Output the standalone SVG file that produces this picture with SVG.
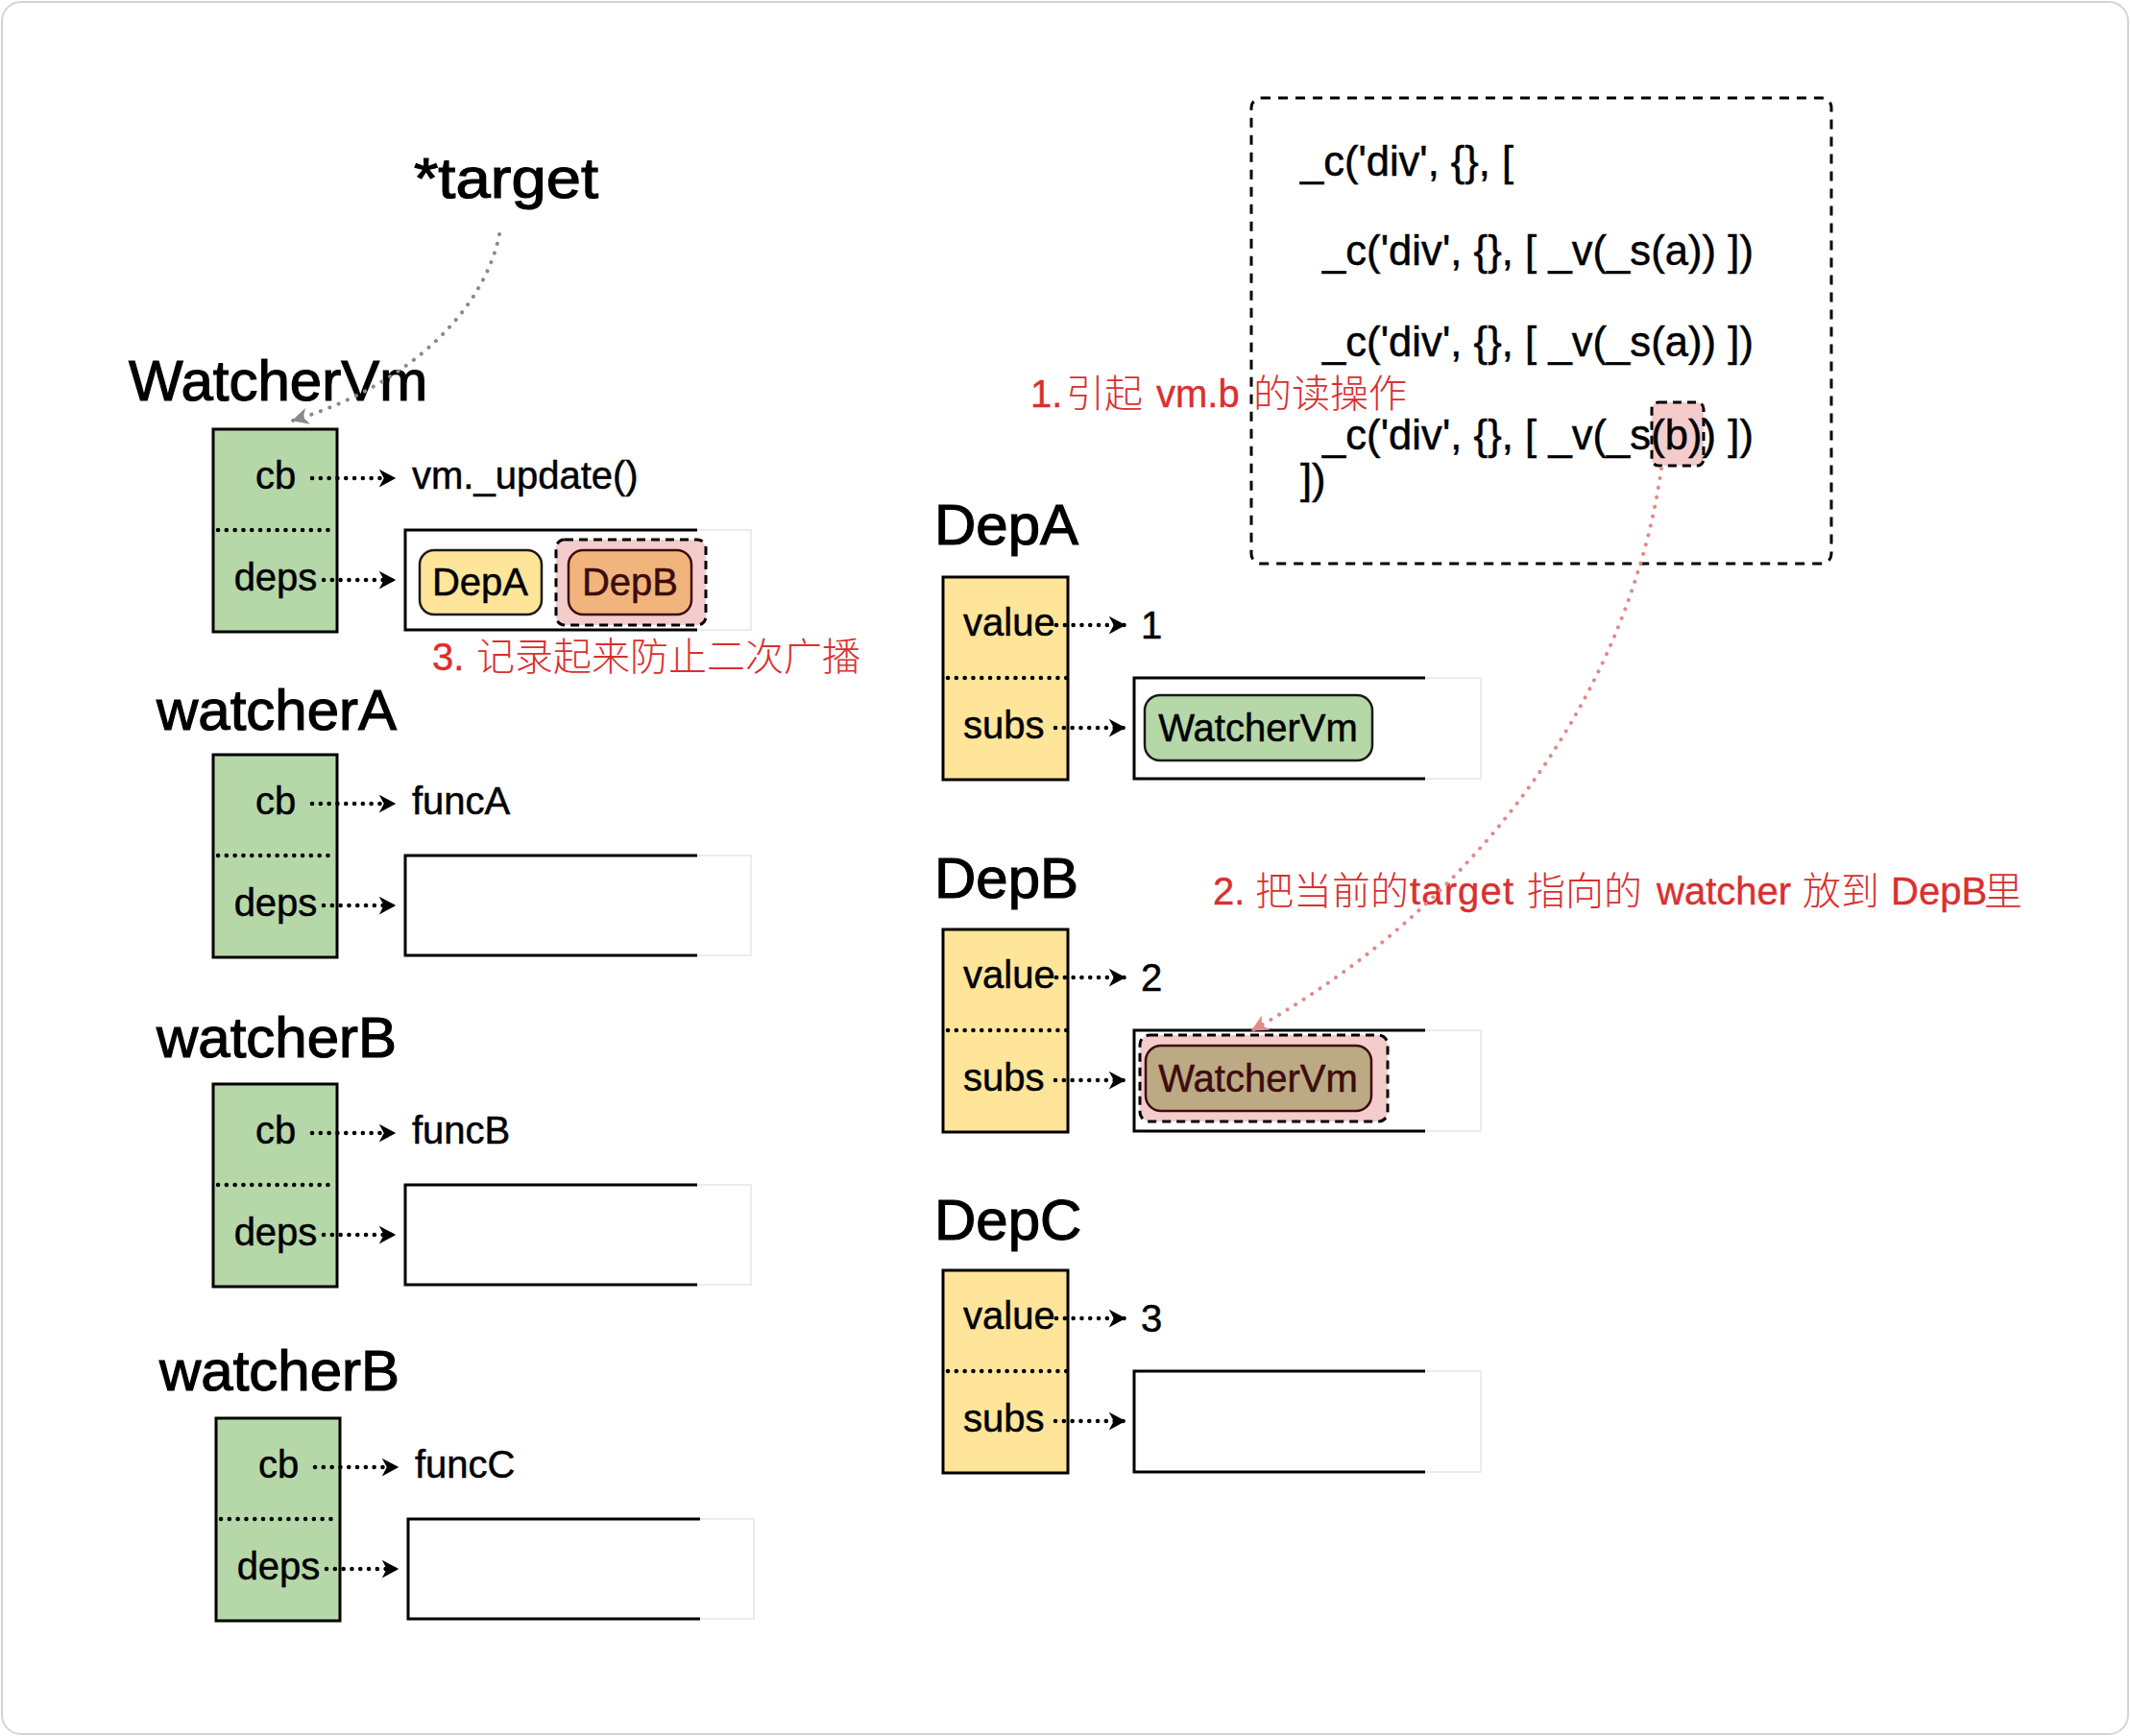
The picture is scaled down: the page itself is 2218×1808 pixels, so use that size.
<svg xmlns="http://www.w3.org/2000/svg" width="2218" height="1808" viewBox="0 0 2218 1808">
<defs>
<style>
.t{font-family:"Liberation Sans","DejaVu Sans",sans-serif;fill:#000}
.title{font-size:60px;stroke:#000;stroke-width:1.2}
.lbl{font-size:40px;stroke:#000;stroke-width:0.5}
.code{font-size:43.5px;stroke:#000;stroke-width:0.5}
.red{fill:#d9302f;font-size:40px;stroke:#d9302f;stroke-width:0.4}
.cjk{font-family:"Noto Sans CJK SC",sans-serif;font-weight:300;stroke-width:0}
.gbox{fill:#b6d7a8;stroke:#000;stroke-width:3}
.ybox{fill:#ffe599;stroke:#000;stroke-width:3}
.dots{stroke:#000;stroke-width:4.5;stroke-dasharray:0.1 8.7;stroke-linecap:round;fill:none}
.arr{stroke:#000;stroke-width:4.5;stroke-dasharray:0.1 8.7;stroke-linecap:round;fill:none;marker-end:url(#ah)}
.cont{fill:#fff;stroke:#000;stroke-width:3}
.faint{fill:none;stroke:#ececec;stroke-width:2}
.pillA{fill:#ffe599;stroke:#1a1a1a;stroke-width:2.5}
.pillB{fill:#f2b47d;stroke:#3d0c0c;stroke-width:2.5}
.pillG{fill:#b6d7a8;stroke:#1a1a1a;stroke-width:2.5}
.pillT{fill:#bcaa85;stroke:#3d0c0c;stroke-width:2.5}
.hl{fill:#f4cccc;stroke:#000;stroke-width:3;stroke-dasharray:9 6}
.dk{fill:#3d0c0c;stroke:#3d0c0c}
</style>
<marker id="ah" markerUnits="userSpaceOnUse" markerWidth="20" markerHeight="20" viewBox="0 0 16 16" refX="14" refY="8" orient="auto">
<path d="M1,0.5 L15,8 L1,15.5 L5,8 Z" fill="#000"/>
</marker>
<marker id="ahGray" markerUnits="userSpaceOnUse" markerWidth="20" markerHeight="20" viewBox="0 0 16 16" refX="14" refY="8" orient="auto">
<path d="M1,1 L15,8 L1,15 L5,8 Z" fill="#8a8a8a"/>
</marker>
<marker id="ahRed" markerUnits="userSpaceOnUse" markerWidth="20" markerHeight="20" viewBox="0 0 16 16" refX="14" refY="8" orient="auto">
<path d="M1,1 L15,8 L1,15 L5,8 Z" fill="#e08a8a"/>
</marker>
</defs>

<rect id="frame" x="2" y="2" width="2214" height="1804" rx="20" fill="#fff" stroke="#d4d4d4" stroke-width="2"/>

<text id="target" class="t title" x="431" y="206" textLength="192" lengthAdjust="spacingAndGlyphs">*target</text>

<g id="watcherVm">
<text class="t title" x="134" y="417">WatcherVm</text>
<rect class="gbox" x="222" y="447" width="129" height="211"/>
<line class="dots" x1="227" y1="552" x2="350" y2="552"/>
<text class="t lbl" x="287" y="509" text-anchor="middle">cb</text>
<text class="t lbl" x="287" y="615" text-anchor="middle">deps</text>
<text class="t lbl" x="429" y="509">vm._update()</text>
<path class="cont" d="M726,552 H422 V656 H726"/>
<path class="faint" d="M726,552 H782 V656 H726"/>
<rect class="pillA" x="437" y="573" width="127" height="67" rx="15"/>
<text class="t lbl" x="500" y="620" text-anchor="middle">DepA</text>
<rect class="hl" x="579" y="562" width="156" height="89" rx="9"/>
<rect class="pillB" x="592" y="573" width="128" height="67" rx="15"/>
<text class="t lbl dk" x="656" y="620" text-anchor="middle">DepB</text>
</g>

<g id="watcherA">
<text class="t title" x="163" y="760">watcherA</text>
<rect class="gbox" x="222" y="786" width="129" height="211"/>
<line class="dots" x1="227" y1="891" x2="350" y2="891"/>
<text class="t lbl" x="287" y="848" text-anchor="middle">cb</text>
<text class="t lbl" x="287" y="954" text-anchor="middle">deps</text>
<text class="t lbl" x="429" y="848">funcA</text>
<path class="cont" d="M726,891 H422 V995 H726"/>
<path class="faint" d="M726,891 H782 V995 H726"/>
</g>

<g id="watcherB1">
<text class="t title" x="163" y="1101">watcherB</text>
<rect class="gbox" x="222" y="1129" width="129" height="211"/>
<line class="dots" x1="227" y1="1234" x2="350" y2="1234"/>
<text class="t lbl" x="287" y="1191" text-anchor="middle">cb</text>
<text class="t lbl" x="287" y="1297" text-anchor="middle">deps</text>
<text class="t lbl" x="429" y="1191">funcB</text>
<path class="cont" d="M726,1234 H422 V1338 H726"/>
<path class="faint" d="M726,1234 H782 V1338 H726"/>
</g>

<g id="watcherB2">
<text class="t title" x="166" y="1448">watcherB</text>
<rect class="gbox" x="225" y="1477" width="129" height="211"/>
<line class="dots" x1="230" y1="1582" x2="353" y2="1582"/>
<text class="t lbl" x="290" y="1539" text-anchor="middle">cb</text>
<text class="t lbl" x="290" y="1645" text-anchor="middle">deps</text>
<text class="t lbl" x="432" y="1539">funcC</text>
<path class="cont" d="M729,1582 H425 V1686 H729"/>
<path class="faint" d="M729,1582 H785 V1686 H729"/>
</g>

<g id="depA">
<text class="t title" x="973" y="567">DepA</text>
<rect class="ybox" x="982" y="601" width="130" height="211"/>
<line class="dots" x1="987" y1="706" x2="1111" y2="706"/>
<text class="t lbl" x="1003" y="662">value</text>
<text class="t lbl" x="1003" y="769">subs</text>
<text class="t lbl" x="1188" y="665">1</text>
<path class="cont" d="M1484,706 H1181 V811 H1484"/>
<path class="faint" d="M1484,706 H1542 V811 H1484"/>
<rect class="pillG" x="1192" y="724" width="237" height="68" rx="16"/>
<text class="t lbl" x="1310" y="772" text-anchor="middle">WatcherVm</text>
</g>

<g id="depB">
<text class="t title" x="973" y="935">DepB</text>
<rect class="ybox" x="982" y="968" width="130" height="211"/>
<line class="dots" x1="987" y1="1073" x2="1111" y2="1073"/>
<text class="t lbl" x="1003" y="1029">value</text>
<text class="t lbl" x="1003" y="1136">subs</text>
<text class="t lbl" x="1188" y="1032">2</text>
<path class="cont" d="M1484,1073 H1181 V1178 H1484"/>
<path class="faint" d="M1484,1073 H1542 V1178 H1484"/>
<rect class="hl" x="1187" y="1078" width="258" height="90" rx="10"/>
<rect class="pillT" x="1193" y="1089" width="235" height="68" rx="16"/>
<text class="t lbl dk" x="1310" y="1137" text-anchor="middle">WatcherVm</text>
</g>

<g id="depC">
<text class="t title" x="973" y="1291">DepC</text>
<rect class="ybox" x="982" y="1323" width="130" height="211"/>
<line class="dots" x1="987" y1="1428" x2="1111" y2="1428"/>
<text class="t lbl" x="1003" y="1384">value</text>
<text class="t lbl" x="1003" y="1491">subs</text>
<text class="t lbl" x="1188" y="1387">3</text>
<path class="cont" d="M1484,1428 H1181 V1533 H1484"/>
<path class="faint" d="M1484,1428 H1542 V1533 H1484"/>
</g>

<g id="code">
<rect x="1303" y="102" width="604" height="485" rx="10" fill="none" stroke="#000" stroke-width="3" stroke-dasharray="10 8"/>
<rect class="hl" x="1720" y="419" width="54" height="66" rx="7"/>
<text class="t code" x="1354" y="183">_c('div', {}, [</text>
<text class="t code" x="1377" y="276" textLength="449" lengthAdjust="spacing">_c('div', {}, [ _v(_s(a)) ])</text>
<text class="t code" x="1377" y="371" textLength="449" lengthAdjust="spacing">_c('div', {}, [ _v(_s(a)) ])</text>
<text class="t code" x="1377" y="468" textLength="449" lengthAdjust="spacing">_c('div', {}, [ _v(_s(b)) ])</text>
<text class="t code" x="1354" y="514">])</text>
</g>

<g id="label1">
<text class="t red" y="424"><tspan x="1073">1.</tspan><tspan class="cjk" x="1110">引起</tspan><tspan x="1204">vm.b</tspan><tspan class="cjk" x="1305">的读操作</tspan></text>
</g>
<g id="label3">
<text class="t red" y="698"><tspan x="450">3.</tspan><tspan class="cjk" x="496">记录起来防止二次广播</tspan></text>
</g>
<g id="label2">
<text class="t red" y="942"><tspan x="1263">2.</tspan><tspan class="cjk" x="1307">把当前的</tspan><tspan x="1468" textLength="108" lengthAdjust="spacing">target</tspan><tspan class="cjk" x="1590">指向的</tspan><tspan x="1725">watcher</tspan><tspan class="cjk" x="1877">放到</tspan><tspan x="1969">DepB</tspan><tspan class="cjk" x="2066">里</tspan></text>
</g>

<g id="connectors">
<line class="arr" x1="325" y1="498" x2="411" y2="498"/>
<line class="arr" x1="337" y1="604" x2="411" y2="604"/>
<line class="arr" x1="325" y1="837" x2="411" y2="837"/>
<line class="arr" x1="337" y1="943" x2="411" y2="943"/>
<line class="arr" x1="325" y1="1180" x2="411" y2="1180"/>
<line class="arr" x1="337" y1="1286" x2="411" y2="1286"/>
<line class="arr" x1="328" y1="1528" x2="414" y2="1528"/>
<line class="arr" x1="340" y1="1634" x2="414" y2="1634"/>
<line class="arr" x1="1100" y1="651" x2="1171" y2="651"/>
<line class="arr" x1="1099" y1="758" x2="1171" y2="758"/>
<line class="arr" x1="1100" y1="1018" x2="1171" y2="1018"/>
<line class="arr" x1="1099" y1="1125" x2="1171" y2="1125"/>
<line class="arr" x1="1100" y1="1373" x2="1171" y2="1373"/>
<line class="arr" x1="1099" y1="1480" x2="1171" y2="1480"/>
<path d="M520,244 C505,320 430,400 305,438" fill="none" stroke="#8a8a8a" stroke-width="4" stroke-dasharray="0.1 10" stroke-linecap="round" marker-end="url(#ahGray)"/>
<path d="M1730,488 C1700,700 1560,930 1304,1073" fill="none" stroke="#e08a8a" stroke-width="4" stroke-dasharray="0.1 10" stroke-linecap="round" marker-end="url(#ahRed)"/>
</g>
</svg>
